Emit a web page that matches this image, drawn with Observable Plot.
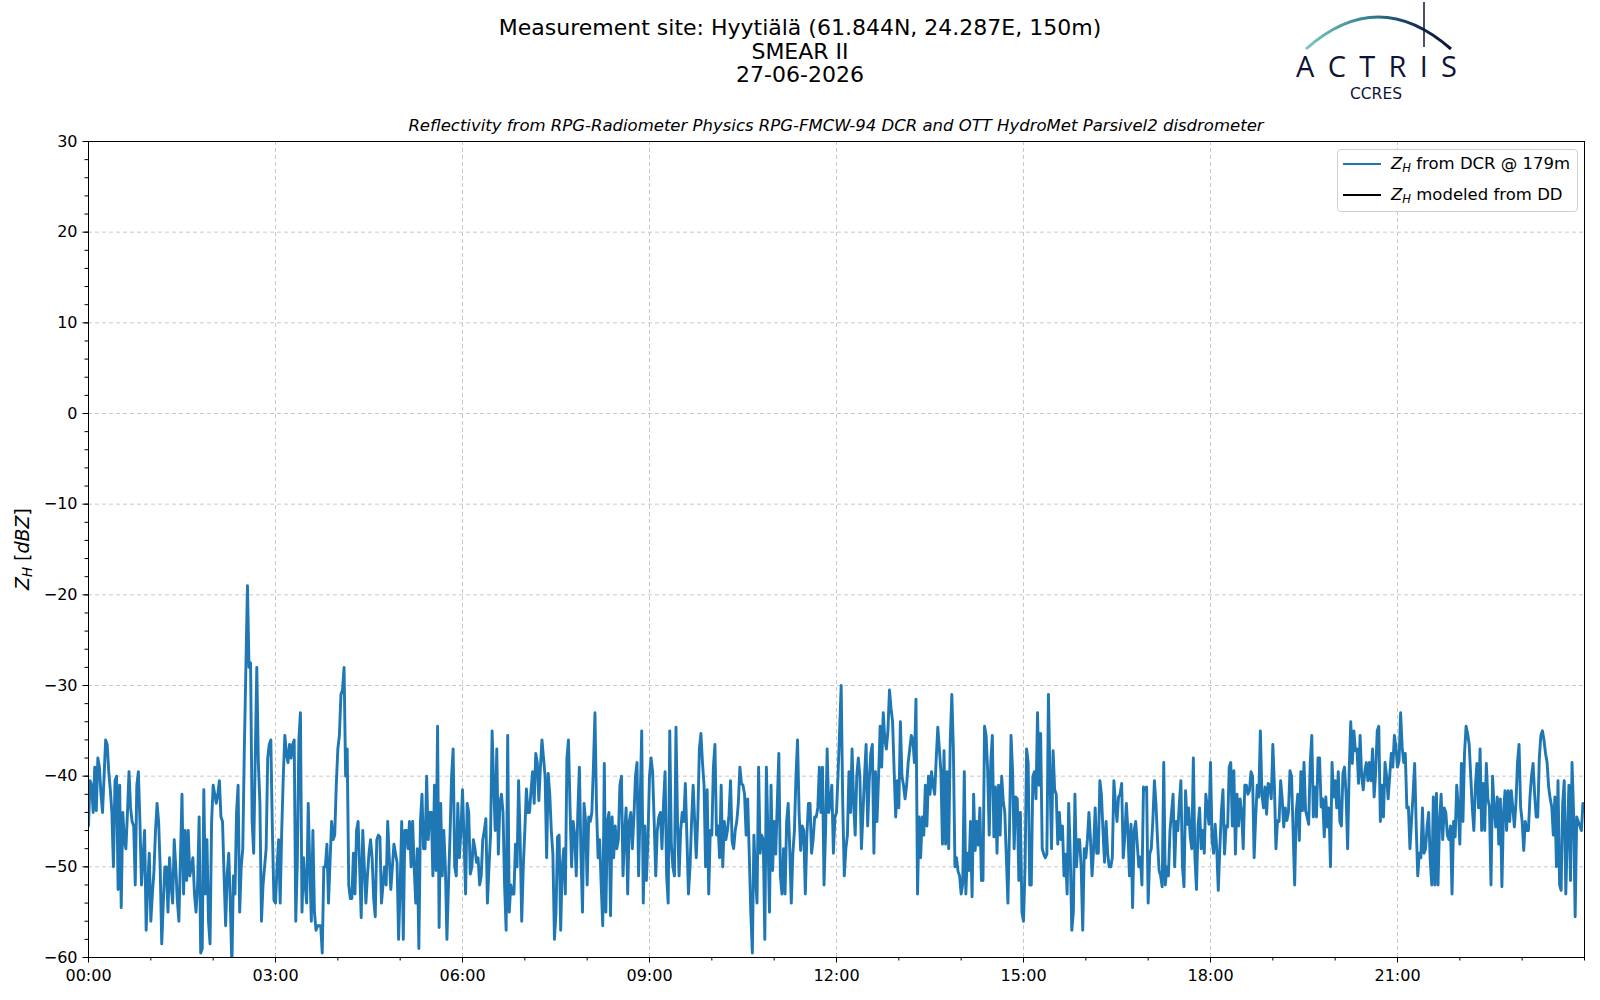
<!DOCTYPE html>
<html>
<head>
<meta charset="utf-8">
<script src="https://cdn.jsdelivr.net/npm/d3@7"></script>
<script src="https://cdn.jsdelivr.net/npm/@observablehq/plot@0.6"></script>
<style>
  body { margin: 0; background: #fff; font-family: "DejaVu Sans", sans-serif; }
  #wrap { position: relative; width: 1600px; height: 1000px; overflow: hidden; }
  #chart { position: absolute; left: 0; top: 0; }
  .title { position: absolute; left: 0; top: 16px; width: 1600px; text-align: center; font-size: 22px; line-height: 23.5px; color: #000; }
  .subtitle { position: absolute; left: 88px; top: 116px; width: 1496px; text-align: center; font-size: 16.5px; line-height: 20px; font-style: italic; color: #000; }
  .ylabel { position: absolute; left: 22.5px; top: 549px; transform: translate(-50%, -50%) rotate(-90deg); font-size: 19px; white-space: nowrap; color: #000; }
  .ylabel sub, .legend sub { font-size: 0.7em; vertical-align: -0.25em; }
  .legend { position: absolute; left: 1337px; top: 149px; width: 239px; height: 61px; border: 1px solid #d0d0d0; border-radius: 4px; background: rgba(255,255,255,0.85); }
  .legend .row { position: absolute; left: 0; height: 20px; display: flex; align-items: center; font-size: 16.5px; white-space: nowrap; }
  .legend .sw { width: 38px; height: 2.6px; margin-left: 5px; margin-right: 10px; }
  #logo { position: absolute; left: 1280px; top: 0; }
</style>
</head>
<body>
<div id="wrap">
  <div id="chart"></div>
  <div class="title">Measurement site: Hyytiälä (61.844N, 24.287E, 150m)<br>SMEAR II<br>27-06-2026</div>
  <div class="subtitle">Reflectivity from RPG-Radiometer Physics RPG-FMCW-94 DCR and OTT HydroMet Parsivel2 disdrometer</div>
  <div class="ylabel"><i>Z<sub>H</sub></i> [<i>dBZ</i>]</div>
  <div class="legend">
    <div class="row" style="top:4px"><div class="sw" style="background:#1f77b4"></div><span><i>Z<sub>H</sub></i> from DCR @ 179m</span></div>
    <div class="row" style="top:35px"><div class="sw" style="background:#000"></div><span><i>Z<sub>H</sub></i> modeled from DD</span></div>
  </div>
  <svg id="logo" width="200" height="110">
    <defs>
      <linearGradient id="arcg" x1="0" x2="1" y1="0" y2="0">
        <stop offset="0" stop-color="#7cc6c2"/>
        <stop offset="0.45" stop-color="#2f7d90"/>
        <stop offset="0.75" stop-color="#17305a"/>
        <stop offset="1" stop-color="#0e1436"/>
      </linearGradient>
    </defs>
    <path d="M26,49 Q98,-15 171,49" fill="none" stroke="url(#arcg)" stroke-width="3"/>
    <line x1="144" y1="2" x2="144" y2="47" stroke="#0e1436" stroke-width="1.5"/>
    <text x="16" y="77" font-family="Open Sans" font-size="29" fill="#0e1436" textLength="161" lengthAdjust="spacing">ACTRIS</text>
    <text x="96" y="99" font-family="DejaVu Sans" font-size="15.5" fill="#0e1436" text-anchor="middle">CCRES</text>
  </svg>
</div>
<script>
// Reflectivity Z_H (dBZ) from DCR @ 179 m, one value every 1.5 minutes, hour by hour (40 per hour)
const stepMinutes = 1.5;
const h00 = [-45.5,-40.5,-41,-44,-39,-43.8,-38,-39,-42,-44,-40,-36,-36.5,-39.5,-41.5,-44,-50,-40.5,-40,-52.5,-41,-54.5,-44,-47,-48,-44,-39.5,-43.5,-45,-45.5,-52,-41,-39.5,-45,-52,-49,-46,-57,-52,-48.5];
const h01 = [-56,-53,-50.5,-46,-43,-45,-50,-58.5,-54,-50,-50,-55,-49,-52,-54,-47,-50,-53.7,-56,-49,-42,-53,-46,-51.5,-46,-51,-50,-49,-53,-55,-52,-44.5,-59.5,-59,-41.5,-53,-47,-56,-58.5,-45];
const h02 = [-41,-42,-43,-42,-40.5,-44.5,-45,-51,-56.5,-50.8,-48.5,-54,-61,-51,-53,-44,-41,-55,-50,-48,-37,-28,-19,-28,-27.5,-45,-48.5,-38,-28,-38.5,-43,-56,-52,-50,-48,-38,-36.5,-36,-46,-53.7];
const h03 = [-54,-50,-47,-54,-46,-40,-35.5,-37.5,-38.5,-36.5,-38,-36.5,-36,-56,-49.5,-36,-33,-55,-49,-52,-54,-43,-50,-56,-46,-55,-57,-56.5,-56.5,-56.5,-59.5,-50,-50,-47.5,-54,-49.5,-45,-47,-46.5,-41];
const h04 = [-37,-35.5,-31,-30.5,-28,-40,-37,-52,-53.5,-53.5,-48.5,-53,-46,-45,-50,-55.6,-46,-50,-54,-51,-48.5,-47,-49,-53.5,-55.5,-47,-46.5,-46.7,-54,-52,-50,-52,-45,-49,-52.5,-50,-47.5,-48.5,-49.5,-58];
const h05 = [-52,-45,-58,-46,-46,-48,-45,-50,-45,-50,-54,-48,-59,-45,-42,-48,-48,-40,-47,-44,-44,-51,-41,-50.4,-34.5,-56.7,-43,-51,-46,-50,-58,-52,-46.5,-40,-37,-50,-51,-43,-49,-46];
const h06 = [-41.5,-47,-53,-43,-44,-50.8,-50,-47,-48,-49.5,-49,-52,-51,-47,-46,-44.7,-54,-50,-46.5,-35,-41,-46,-37,-48.6,-43,-42,-44,-52,-57,-35.5,-55,-52,-53,-53,-47.5,-50,-40.5,-47,-56,-50];
const h07 = [-46,-41.4,-44,-44,-41.5,-39.5,-43,-37.5,-38.5,-42.7,-39,-36,-38,-40,-49,-39.7,-42,-46,-48.6,-58,-55,-46.7,-46.5,-57,-50,-48,-53,-38,-36,-43.4,-50,-45,-46.5,-51,-44,-39,-48.5,-55,-43,-45];
const h08 = [-52,-44.5,-45,-44,-39,-33,-43.5,-49,-47,-52,-56.5,-38.6,-55,-45,-44,-55.4,-44.5,-49,-45.5,-48,-47,-41,-40,-51,-46.5,-43.5,-53,-45,-44,-48,-44.5,-40,-38.5,-51,-43,-35,-54,-45.5,-51.5,-47];
const h09 = [-40,-38,-39.5,-45,-51,-46,-44.5,-44,-48,-43,-39.5,-51,-54,-35,-47.5,-50,-51,-34.6,-45,-51,-46,-44,-45,-40.8,-46.7,-53,-50,-45,-41,-45,-49,-44.5,-37,-35.3,-38.5,-41,-50,-41.5,-53,-46];
const h10 = [-46.5,-39,-36.5,-46.5,-45.5,-49,-41,-50,-45,-47,-46,-44.3,-40.5,-47.2,-48,-46,-45,-43,-39,-40.8,-41,-42,-46.5,-42.5,-48.5,-55,-59.5,-46.5,-51,-54,-39,-48.5,-46.5,-47,-58,-39,-46.5,-55,-41,-50.4];
const h11 = [-45,-48.6,-43,-37.5,-51,-53,-48,-53,-45,-43,-48,-54,-48.5,-46,-40,-36,-44,-48.2,-45.5,-46,-53,-46.5,-43,-43,-48.5,-47,-44.5,-44.5,-43.5,-39,-44,-39,-52,-46,-37,-44,-43,-41,-48.5,-44.5];
const h12 = [-44,-39.8,-35,-30,-43,-51,-48,-46.5,-39.5,-44,-37,-43,-46.5,-40,-38,-40,-48,-44,-40,-36.5,-45.5,-40.5,-37.5,-36.5,-48.5,-39.5,-45,-40,-34.5,-39,-33,-36,-37,-35,-30.5,-32.5,-34,-39.5,-44.5,-40.5];
const h13 = [-43.5,-34,-40,-41,-42.5,-41,-38.5,-37,-35.5,-36,-38.5,-31.5,-53,-44.5,-49,-44.5,-46.5,-41,-45.5,-40,-42,-39.5,-41,-42,-38,-34.6,-37,-39.5,-47.5,-37.2,-47.5,-39.5,-48,-36,-31,-37,-50,-49,-50.5,-51];
const h14 = [-53,-51.9,-39.5,-53,-48.5,-50.4,-45,-53.3,-42,-48.2,-45,-47.6,-43.5,-51.5,-51.5,-34.5,-35.5,-39.4,-46.5,-38.5,-35.5,-46.7,-41.2,-48.5,-41,-46.5,-40,-42.7,-44,-49,-54,-46,-35.5,-39.5,-48,-42.3,-42.5,-51.5,-44,-55];
const h15 = [-56,-50,-37,-38.5,-52,-52,-40,-39.5,-42.5,-33,-41,-35.3,-48,-48.6,-49,-48.6,-31,-40,-48,-37.2,-41.5,-42,-47.5,-44,-47,-45.5,-51,-48.6,-53,-43,-48.5,-57,-55,-42,-50,-47,-47,-50,-57,-48];
const h16 = [-49,-47,-44,-47,-51,-48,-43.5,-48.5,-48.5,-40.5,-42,-46,-49.5,-45,-48.5,-50,-50,-49,-40.5,-43,-45,-42.3,-42,-40.8,-49,-46.7,-43,-46,-51,-45.3,-54.5,-46,-45,-47.5,-50,-48.9,-52,-41.2,-41.5,-41.2];
const h17 = [-54,-48.6,-48,-44.9,-40.5,-43,-47,-50.4,-51,-52.2,-38.5,-52,-50,-51,-46,-44,-42,-50,-45,-46,-43,-40.5,-50,-52.2,-41.6,-45.3,-43.5,-46.7,-48,-38,-49,-52.5,-45.5,-43.5,-48,-46,-48.5,-42,-43.5,-45.3];
const h18 = [-38.5,-47,-48.5,-45.3,-48,-52.6,-48,-43.8,-41.5,-48.6,-45.5,-45.6,-39,-38.5,-45.5,-39.4,-48.6,-42,-45.5,-42.5,-44,-48,-41,-41,-42,-41.6,-39.5,-40,-49,-44.5,-41,-42.3,-35,-42,-43.5,-41.2,-44.2,-40.8,-41,-42.5];
const h19 = [-36.5,-41,-48,-44.9,-45,-40.5,-42.5,-45.6,-43.5,-44.9,-44,-39.4,-40,-46,-52,-44,-42,-47.1,-39.5,-43.8,-38.5,-43.8,-44.5,-45.3,-38.5,-35.5,-44.5,-41.2,-44.5,-38,-38,-43.4,-42.5,-46.7,-42.3,-45.6,-43.5,-50,-38.5,-42.3];
const h20 = [-40.5,-43.5,-39.5,-45,-45.5,-39.7,-39,-42,-48,-39.4,-34,-38.6,-35,-37.2,-37,-40.8,-35.5,-40,-41.5,-39.5,-38.5,-40.5,-38.5,-40.5,-37,-42.3,-39.5,-35,-34.5,-45,-41,-44.5,-38.5,-40,-42.5,-40,-37.5,-39,-35.5,-36.8];
const h21 = [-39,-38.3,-33,-36.8,-38.5,-37.5,-43.5,-43.4,-48,-44.9,-42,-38.6,-45.5,-51,-48.5,-49,-43.5,-48.5,-48,-45.5,-44,-49.3,-52,-42.3,-52,-41.9,-52,-45,-42,-47,-43.5,-44,-46.5,-47,-45.5,-53,-45,-46.7,-41,-43.4];
const h22 = [-47.5,-38.6,-45,-37.5,-34.5,-35.3,-36.5,-40,-43.5,-46,-41,-38.6,-43.5,-37,-46,-40.8,-46,-38.6,-42.5,-43.4,-52,-40,-43.5,-45.6,-42.3,-47.5,-42.5,-52.2,-44,-41.6,-46,-41.6,-45,-41.6,-43.5,-45.6,-43,-38.5,-36.5,-43.4];
const h23 = [-45,-48.2,-45,-46,-46,-42.3,-40,-38.6,-42,-44.5,-44.5,-38,-35.5,-35,-36,-37.5,-38.5,-41.2,-42.5,-43.4,-46.5,-42.3,-50,-40.5,-52,-52.6,-43,-40.5,-53,-46.4,-41,-51.5,-38.5,-44,-55.5,-44.5,-45,-45.5,-46,-43];

const hours = [h00,h01,h02,h03,h04,h05,h06,h07,h08,h09,h10,h11,h12,h13,h14,h15,h16,h17,h18,h19,h20,h21,h22,h23];

const xMajor = [0, 3, 6, 9, 12, 15, 18, 21];
const xMinor = d3.range(0, 25);
const yMajor = [-60, -50, -40, -30, -20, -10, 0, 10, 20, 30];
const yMinor = d3.range(-60, 31, 2);

const perHour = 60 / stepMinutes;
const data = hours.flatMap((arr, h) => arr.map((v, i) => ({hour: h + i / perHour, zh: v})));
const fmtHour = h => String(h).padStart(2, "0") + ":00";

const gridStyle = {stroke: "#c8c8c8", strokeOpacity: 1, strokeWidth: 1, strokeDasharray: "4,3"};

const chart = Plot.plot({
  width: 1600,
  height: 1000,
  marginLeft: 88,
  marginRight: 16,
  marginTop: 141,
  marginBottom: 43,
  style: {fontFamily: "DejaVu Sans", fontSize: "16px", color: "#000", background: "transparent"},
  x: {domain: [0, 24]},
  y: {domain: [-60, 30]},
  marks: [
    Plot.gridX(xMajor, gridStyle),
    Plot.gridY(yMajor, gridStyle),
    Plot.line(data, {x: "hour", y: "zh", stroke: "#1f77b4", strokeWidth: 2.9, strokeLinejoin: "round", clip: true}),
    Plot.frame({stroke: "#000", strokeWidth: 1}),
    Plot.axisX(xMinor, {tickSize: 3.5, tickFormat: () => "", label: null, strokeWidth: 1}),
    Plot.axisX(xMajor, {tickSize: 5.5, tickPadding: 6.5, tickFormat: fmtHour, fontSize: 16, label: null, strokeWidth: 1}),
    Plot.axisY(yMinor, {tickSize: 3.5, tickFormat: () => "", label: null, strokeWidth: 1}),
    Plot.axisY(yMajor, {tickSize: 5.5, tickPadding: 5.5, fontSize: 16, label: null, strokeWidth: 1})
  ]
});
document.getElementById("chart").appendChild(chart);
</script>
</body>
</html>
